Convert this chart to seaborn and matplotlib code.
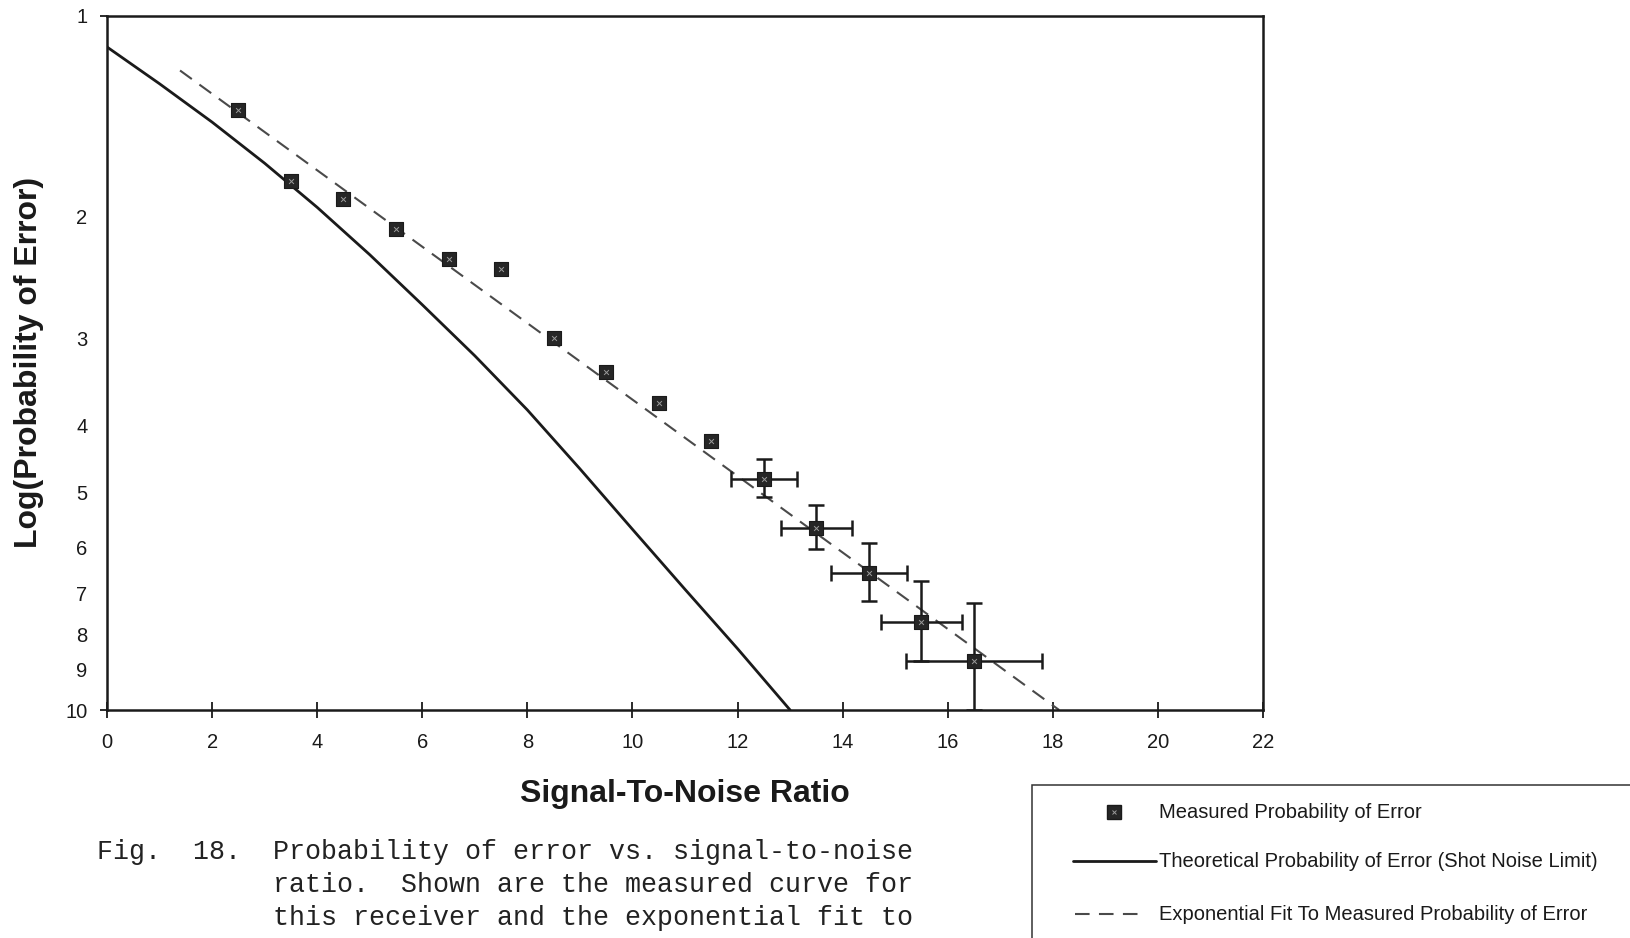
import numpy as np
import pandas as pd
import matplotlib
matplotlib.use("Agg")
import matplotlib.pyplot as plt
from matplotlib.lines import Line2D
from matplotlib.patches import Rectangle
from matplotlib.transforms import ScaledTranslation
import seaborn as sns

# ---- data -------------------------------------------------------------
# measured probability of error (plotted on the inverted log axis)
snr_measured = [2.5, 3.5, 4.5, 5.5, 6.5, 7.5, 8.5, 9.5, 10.5, 11.5,
                12.5, 13.5, 14.5, 15.5, 16.5]
log_pe_measured = [1.37, 1.73, 1.84, 2.03, 2.24, 2.32, 2.91, 3.26, 3.61, 4.10,
                   4.65, 5.47, 6.34, 7.48, 8.50]

# uncertainty on the last five measurements
snr_err_points = [12.5, 13.5, 14.5, 15.5, 16.5]
log_pe_err_points = [4.65, 5.47, 6.34, 7.48, 8.50]
snr_halfwidth = [0.63, 0.67, 0.72, 0.77, 1.30]
log_pe_low = [4.35, 5.07, 5.75, 6.52, 7.01]
log_pe_high = [4.94, 5.87, 6.97, 8.50, 10.0]

# shot-noise-limited theoretical curve
snr_theory = [0, 1, 2, 3, 4, 5, 6, 7, 8, 9, 10, 11, 12, 13.0]
log_pe_theory = [1.11, 1.254, 1.424, 1.632, 1.889, 2.21, 2.609, 3.09, 3.698,
                 4.495, 5.493, 6.703, 8.16, 10.0]

# exponential fit to the measurements (straight on the log axis)
snr_fit = [1.39, 18.12]
log_pe_fit = [1.20, 10.0]

x_ticks = list(range(0, 23, 2))
y_major = [1, 10]
y_minor = [2, 3, 4, 5, 6, 7, 8, 9]

x_title = "Signal-To-Noise Ratio"
y_title = "Log(Probability of Error)"
legend_labels = ["Measured Probability of Error",
                 "Theoretical Probability of Error (Shot Noise Limit)",
                 "Exponential Fit To Measured Probability of Error"]
caption_lines = ["Fig.  18.  Probability of error vs. signal-to-noise",
                 "ratio.  Shown are the measured curve for",
                 "this receiver and the exponential fit to"]

# ---- style ------------------------------------------------------------
sns.set_style("white")
plt.rcParams["font.family"] = ["Liberation Sans", "DejaVu Sans"]
ink = "#1a1a1a"

W, H = 1630, 938
fig = plt.figure(figsize=(W / 100, H / 100), dpi=100)
fig.patch.set_facecolor("white")
ax = fig.add_axes([107 / W, 1 - 710 / H, 1156 / W, 694.5 / H])
ax.set_facecolor("white")

measured = pd.DataFrame({"snr": snr_measured, "lpe": log_pe_measured})
theory = pd.DataFrame({"snr": snr_theory, "lpe": log_pe_theory})
fit = pd.DataFrame({"snr": snr_fit, "lpe": log_pe_fit})

ax.set_yscale("log")

# theoretical curve
sns.lineplot(data=theory, x="snr", y="lpe", ax=ax, color=ink, lw=2.0,
             sort=False, zorder=2)
# exponential fit
sns.lineplot(data=fit, x="snr", y="lpe", ax=ax, color="#4a4a4a", lw=1.5,
             sort=False, zorder=2)
ax.lines[-1].set_dashes((7, 4.5))

# error bars
yv = np.array(log_pe_err_points)
yerr = [yv - np.array(log_pe_low), np.array(log_pe_high) - yv]
ax.errorbar(snr_err_points, log_pe_err_points, xerr=snr_halfwidth, yerr=yerr,
            fmt="none", ecolor=ink, elinewidth=1.8, capsize=6, capthick=1.8,
            zorder=3)

# measured points: dark squares with a light speckle
sns.scatterplot(data=measured, x="snr", y="lpe", ax=ax, marker="s", s=100,
                color="#262626", edgecolor=ink, linewidth=0.8, zorder=4)
sns.scatterplot(data=measured, x="snr", y="lpe", ax=ax, marker="x", s=12,
                color="#9a9a9a", linewidth=0.7, zorder=5)

# axes
ax.set_xlim(0, 22)
ax.set_ylim(10, 1)
ax.set_xticks(x_ticks)
ax.set_xticklabels([str(t) for t in x_ticks])
ax.set_yticks(y_major)
ax.set_yticklabels([str(t) for t in y_major])
ax.set_yticks(y_minor, minor=True)
ax.set_yticklabels([str(t) for t in y_minor], minor=True)

for sp in ax.spines.values():
    sp.set_visible(True)
    sp.set_color(ink)
    sp.set_linewidth(1.8)

ax.tick_params(axis="x", which="both", direction="inout", length=11, width=1.3,
               color=ink, labelsize=14.5, labelcolor=ink, pad=11,
               bottom=True, top=False)
ax.tick_params(axis="y", which="major", direction="out", length=5, width=1.3,
               color=ink, labelsize=14.5, labelcolor=ink, pad=9,
               left=True, right=False)
ax.tick_params(axis="y", which="minor", direction="out", length=0,
               labelsize=14.5, labelcolor=ink, pad=14, left=True, right=False)

ax.set_xlabel(x_title, fontsize=23, fontweight="bold", color=ink)
ax.xaxis.set_label_coords(0.5, (710 - 779) / 694.5)
ax.set_ylabel(y_title, fontsize=23, fontweight="bold", color=ink)
ax.yaxis.set_label_coords((44 - 107) / 1156, 0.5)

# the in-between labels sit a little above their log position
lift = ScaledTranslation(0, 8.5 / 100, fig.dpi_scale_trans)
for lab in ax.get_yticklabels(minor=True):
    lab.set_transform(lab.get_transform() + lift)

# ---- legend box (runs off the page edge) ------------------------------
lx0, ly0 = 1032, 785
fig.add_artist(Rectangle((lx0 / W, -0.2), 0.6, 1 - ly0 / H + 0.2,
                         transform=fig.transFigure, facecolor="none",
                         edgecolor="#333333", linewidth=1.1, clip_on=False))
row_y = [812, 861, 914]
text_x = 1159
fig.add_artist(Line2D([1114 / W], [1 - row_y[0] / H], transform=fig.transFigure,
                      marker="s", markersize=9.5, color="#262626",
                      markeredgecolor=ink, linestyle="none"))
fig.add_artist(Line2D([1114 / W], [1 - row_y[0] / H], transform=fig.transFigure,
                      marker="x", markersize=3, color="#9a9a9a",
                      markeredgewidth=0.7, linestyle="none"))
fig.add_artist(Line2D([1073 / W, 1156 / W], [1 - row_y[1] / H] * 2,
                      transform=fig.transFigure, color=ink, lw=2.0))
fit_line = Line2D([1075 / W, 1146 / W], [1 - row_y[2] / H] * 2,
                  transform=fig.transFigure, color="#4a4a4a", lw=1.5)
fit_line.set_dashes((7, 4.5))
fig.add_artist(fit_line)
for lab, yy in zip(legend_labels, row_y):
    fig.text(text_x / W, 1 - yy / H, lab, fontsize=14.5, color=ink,
             ha="left", va="center")

# ---- caption ----------------------------------------------------------
cap_x = [97, 273, 273]
cap_y = [852, 885, 918]
for line, cx, cy in zip(caption_lines, cap_x, cap_y):
    fig.text(cx / W, 1 - cy / H, line, fontsize=19.2, color="#222222",
             family=["Liberation Mono", "DejaVu Sans Mono"],
             ha="left", va="center")

fig.savefig("out.png", dpi=100, facecolor="white")
